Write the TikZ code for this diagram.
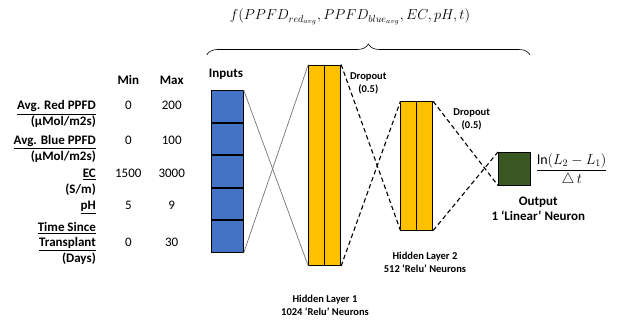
\documentclass[tikz,border=0pt]{standalone}
\usepackage{amsmath}
\usepackage{fontspec}
\setmainfont{Carlito}
\usetikzlibrary{positioning,decorations.pathreplacing}
\definecolor{inblue}{HTML}{4472C4}
\definecolor{hidyellow}{HTML}{FFC000}
\definecolor{outgreen}{HTML}{385723}
\tikzset{
  incell/.style={draw=black, fill=inblue, line width=0.8pt, minimum width=31.7pt, minimum height=31.7pt, inner sep=0pt},
  hidlayer/.style={draw=black, fill=hidyellow, line width=0.8pt, minimum width=32pt, inner sep=0pt},
  outcell/.style={draw=black, fill=outgreen, line width=0.8pt, minimum width=31.7pt, minimum height=32.7pt, inner sep=0pt},
  crossline/.style={draw=black!55, line width=0.7pt},
  dropline/.style={draw=black, line width=1.1pt, dash pattern=on 4.5pt off 3pt},
  bigtxt/.style={font=\fontsize{13}{15}\selectfont\bfseries, inner sep=0pt, text height=10.4pt, text depth=2pt},
  valtxt/.style={font=\fontsize{13}{15}\selectfont, inner sep=0pt, text height=10.4pt, text depth=2pt},
  smalltxt/.style={font=\fontsize{10.5}{13}\selectfont\bfseries, inner sep=0pt, align=center}
}

\begin{document}
\begin{tikzpicture}[x=1pt,y=-1pt]
			%%%%% START %%%%%
			\useasboundingbox (0,0) rectangle (628,324);
			
			% table of inputs
			\node[bigtxt] (minhead) at (128.3,80.7) {Min};
			\node[bigtxt] (maxhead) at (171.7,80.7) {Max};
			
			\node[bigtxt, anchor=east] (redlbl) at (96,105.7) {\underline{Avg. Red PPFD}};
			\node[bigtxt, anchor=east] (redunit) at (96,121.7) {(µMol/m2s)};
			\node[valtxt] (redmin) at (128.3,105.7) {0};
			\node[valtxt] (redmax) at (171.7,105.7) {200};
			
			\node[bigtxt, anchor=east] (bluelbl) at (96,140) {\underline{Avg. Blue PPFD}};
			\node[bigtxt, anchor=east] (blueunit) at (96,156.7) {(µMol/m2s)};
			\node[valtxt] (bluemin) at (128.3,140) {0};
			\node[valtxt] (bluemax) at (171.7,140) {100};
			
			\node[bigtxt, anchor=east] (eclbl) at (96,173.3) {\underline{EC}};
			\node[bigtxt, anchor=east] (ecunit) at (96,189.3) {(S/m)};
			\node[valtxt] (ecmin) at (128.3,173.3) {1500};
			\node[valtxt] (ecmax) at (171.7,173.3) {3000};
			
			\node[bigtxt, anchor=east] (phlbl) at (96,205.7) {\underline{pH}};
			\node[valtxt] (phmin) at (128.3,205.7) {5};
			\node[valtxt] (phmax) at (171.7,205.7) {9};
			
			\node[bigtxt, anchor=east] (timelbl) at (96,227.7) {\underline{Time Since}};
			\node[bigtxt, anchor=east] (timelbltwo) at (96,242.7) {\underline{Transplant}};
			\node[bigtxt, anchor=east] (timeunit) at (96,258.3) {(Days)};
			\node[valtxt] (timemin) at (128.3,242.7) {0};
			\node[valtxt] (timemax) at (171.7,242.7) {30};
			
			% input column
			\node[incell] (in1) at (227.5,106.5) {};
			\node[incell, below=0pt of in1] (in2) {};
			\node[incell, below=0pt of in2] (in3) {};
			\node[incell, below=0pt of in3] (in4) {};
			\node[incell, below=0pt of in4] (in5) {};
			\node[bigtxt] (inlbl) at (226,73.3) {Inputs};
			
			% hidden layers
			\node[hidlayer, minimum height=200.7pt] (h1) at (324.7,165.3) {};
			\draw[line width=0.8pt] (h1.north) -- (h1.south);
			\node[hidlayer, minimum height=128.3pt] (h2) at (416.8,165.9) {};
			\draw[line width=0.8pt] (h2.north) -- (h2.south);
			
			% output
			\node[outcell] (out) at (514.2,168.7) {};
			
			% connections
			\draw[crossline] (in1.north east) -- (h1.south west);
			\draw[crossline] (in5.south east) -- (h1.north west);
			\draw[dropline] (h1.north east) -- (h2.south west);
			\draw[dropline] (h1.south east) -- (h2.north west);
			\draw[dropline] (h2.north east) -- (out.south west);
			\draw[dropline] (h2.south east) -- (out.north west);
			
			% labels
			\node[smalltxt] (drop1) at (368.3,83) {Dropout\\(0.5)};
			\node[smalltxt] (drop2) at (471.7,119.2) {Dropout\\(0.5)};
			\node[smalltxt] (h1lbl) at (325,305) {Hidden Layer 1\\1024 ‘Relu’ Neurons};
			\node[smalltxt] (h2lbl) at (425,262) {Hidden Layer 2\\512 ‘Relu’ Neurons};
			\node[bigtxt] (outlbl) at (538.3,201.7) {Output};
			\node[bigtxt] (outlbltwo) at (538.3,216.7) {1 ‘Linear’ Neuron};
			\node[inner sep=0pt, font=\fontsize{14}{16}\selectfont] (rate) at (571.7,170) {$\dfrac{\ln(L_2-L_1)}{\triangle\, t}$};
			
			% brace and function
			\draw[line width=0.6pt, decorate, decoration={brace, amplitude=11pt}] (206.7,55) -- (530,55);
			\node[inner sep=0pt, font=\fontsize{14}{16}\selectfont] (func) at (350,17) {$f(PPFD_{red_{avg}},PPFD_{blue_{avg}},EC,pH,t)$};
			
			%%%%% END %%%%%
\end{tikzpicture}
\end{document}
